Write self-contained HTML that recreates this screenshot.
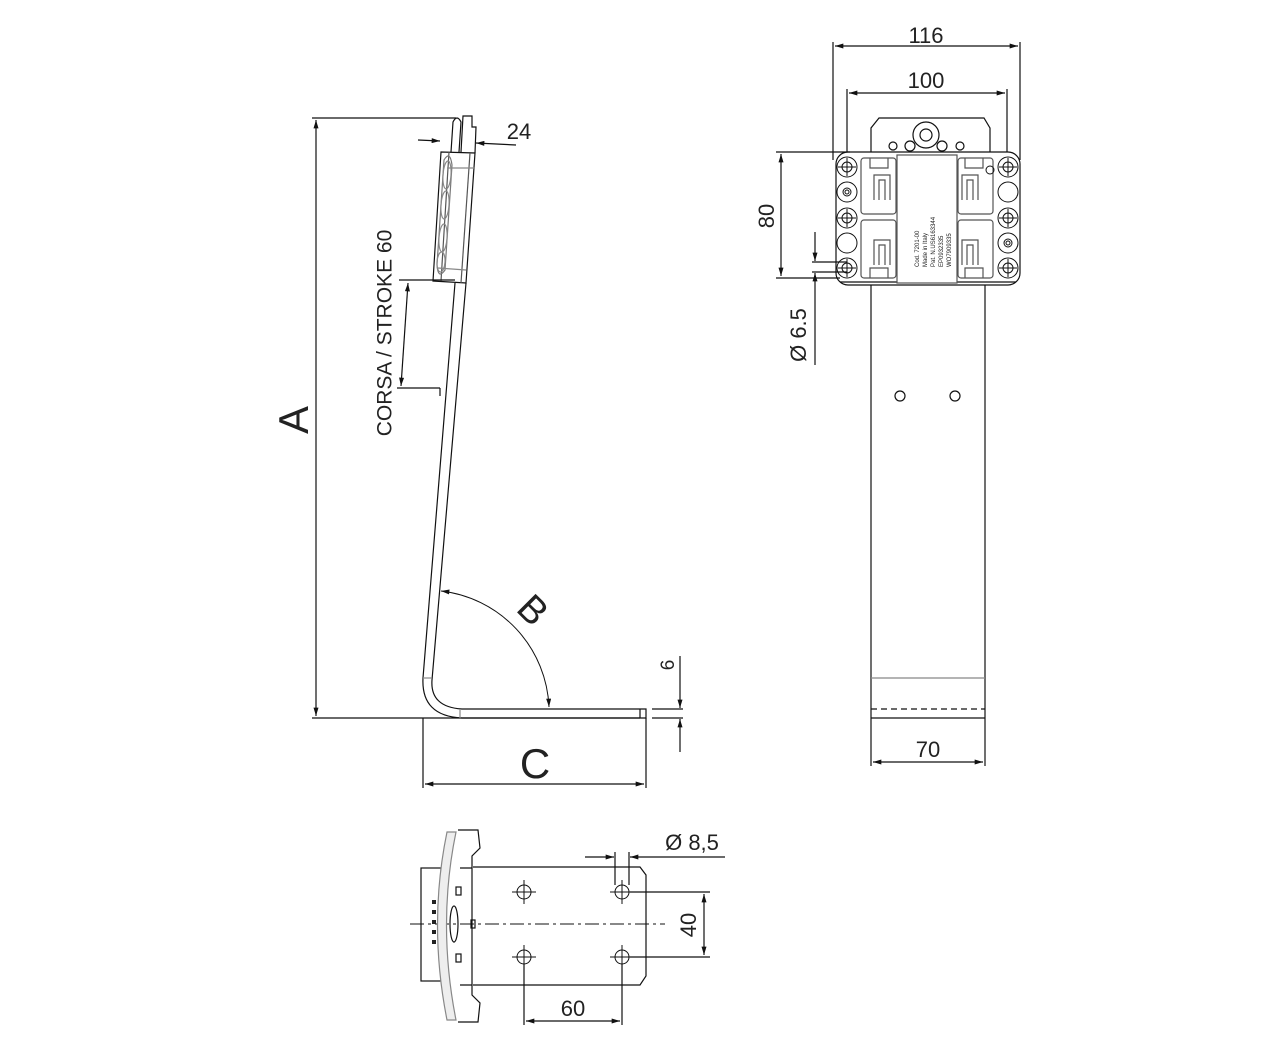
<!DOCTYPE html>
<html><head><meta charset="utf-8"><style>
html,body{margin:0;padding:0;background:#fff}
svg{display:block}
text{font-family:"Liberation Sans","DejaVu Sans",sans-serif;fill:#222}
</style></head><body>
<svg width="1280" height="1060" viewBox="0 0 1280 1060" xmlns="http://www.w3.org/2000/svg">
<defs>
<marker id="ar" viewBox="0 0 10 6" refX="10" refY="3" markerWidth="12" markerHeight="5" orient="auto-start-reverse" markerUnits="userSpaceOnUse"><path d="M0,0 L10,3 L0,6 z" fill="#111"/></marker>
</defs>
<g fill="none" stroke="#111" stroke-width="1.2">
<line x1="312" y1="118" x2="456" y2="118"/>
<line x1="312" y1="718" x2="640" y2="718"/>
<line x1="316" y1="120" x2="316" y2="716" marker-start="url(#ar)" marker-end="url(#ar)"/>
<path d="M455,283 L423,678 Q421,716 462,718 L646,718 L646,709 L462,709 Q430,707 432,680 L466,283"/>
<line x1="640" y1="709" x2="640" y2="718"/>
<line x1="423" y1="678" x2="432" y2="678" stroke="#888"/>
<line x1="460" y1="709" x2="460" y2="718" stroke="#888"/>
<path d="M441,152 L475,153 L466,283 L433,281 Z"/>
<path d="M449,152 L441,281" stroke="#555"/>
<path d="M470,153 L461,283" stroke="#555"/>
<path d="M444,160 Q450,150 452,165 L445,270 Q438,280 437,265 Z" stroke="#777"/>
<ellipse cx="447" cy="175" rx="4" ry="14" stroke="#888" transform="rotate(4 447 175)"/>
<ellipse cx="445" cy="205" rx="4" ry="14" stroke="#888" transform="rotate(4 445 205)"/>
<ellipse cx="443" cy="238" rx="4" ry="14" stroke="#888" transform="rotate(4 443 238)"/>
<ellipse cx="441" cy="262" rx="4" ry="10" stroke="#888" transform="rotate(4 441 262)"/>
<path d="M451,152 L453,122 Q457,114 461,122 L459,152"/>
<path d="M461,152 L463,116 L472,116 L472,127 L476,127 L475,153"/>
<line x1="447" y1="168" x2="475" y2="168" stroke="#888"/>
<line x1="438" y1="268" x2="466" y2="270" stroke="#888"/>
<line x1="418" y1="140" x2="440" y2="141" marker-end="url(#ar)"/>
<line x1="516" y1="145" x2="476" y2="143" marker-end="url(#ar)"/>
<line x1="399" y1="280" x2="455" y2="280"/>
<line x1="397" y1="388" x2="440" y2="388"/>
<line x1="440" y1="388" x2="440" y2="396"/>
<line x1="408" y1="283" x2="401" y2="386" marker-start="url(#ar)" marker-end="url(#ar)"/>
<path d="M441,591 A122,122 0 0 1 549,707" marker-start="url(#ar)" marker-end="url(#ar)" stroke-width="1"/>
<line x1="423" y1="718" x2="423" y2="788"/>
<line x1="646" y1="718" x2="646" y2="788"/>
<line x1="425" y1="784" x2="644" y2="784" marker-start="url(#ar)" marker-end="url(#ar)"/>
<line x1="652" y1="709" x2="683" y2="709"/>
<line x1="652" y1="718" x2="683" y2="718"/>
<line x1="680" y1="656" x2="680" y2="708" marker-end="url(#ar)"/>
<line x1="680" y1="752" x2="680" y2="719" marker-end="url(#ar)"/>

<line x1="833" y1="42" x2="833" y2="160"/>
<line x1="1020" y1="42" x2="1020" y2="160"/>
<line x1="835" y1="46" x2="1018" y2="46" marker-start="url(#ar)" marker-end="url(#ar)"/>
<line x1="847" y1="89" x2="847" y2="165"/>
<line x1="1007" y1="89" x2="1007" y2="165"/>
<line x1="849" y1="93" x2="1005" y2="93" marker-start="url(#ar)" marker-end="url(#ar)"/>
<path d="M871,152 L871,128 L879,118 L984,118 L990,128 L990,152"/>
<circle cx="926" cy="135" r="13"/>
<circle cx="926" cy="135" r="6"/>
<circle cx="910" cy="146" r="5"/><circle cx="942" cy="146" r="5"/>
<circle cx="893" cy="146" r="4"/><circle cx="960" cy="146" r="4"/>
<rect x="836" y="152" width="184" height="133" rx="12" fill="#fff"/>
<line x1="840" y1="282" x2="1016" y2="282"/>
<rect x="897" y="155" width="60" height="128" fill="#fff" stroke="#555"/>
<g stroke="#555">
<rect x="861" y="158" width="35" height="56" rx="3"/><rect x="861" y="220" width="35" height="58" rx="3"/>
<rect x="958" y="158" width="35" height="56" rx="3"/><rect x="958" y="220" width="35" height="58" rx="3"/>
<path d="M874,200 L874,175 L890,175 L890,200 M879,200 L879,180 L885,180 L885,200"/>
<path d="M874,265 L874,240 L890,240 L890,265 M879,265 L879,245 L885,245 L885,265"/>
<path d="M962,200 L962,175 L978,175 L978,200 M967,200 L967,180 L973,180 L973,200"/>
<path d="M962,265 L962,240 L978,240 L978,265 M967,265 L967,245 L973,245 L973,265"/>
<path d="M870,158 L870,168 L888,168 L888,158"/><path d="M870,278 L870,268 L888,268 L888,278"/>
<path d="M965,158 L965,168 L983,168 L983,158"/><path d="M965,278 L965,268 L983,268 L983,278"/>
</g>
<g stroke-width="1">
<circle cx="847" cy="167" r="10"/><circle cx="847" cy="167" r="5"/>
<circle cx="847" cy="192" r="10"/><circle cx="847" cy="192" r="4"/><circle cx="847" cy="192" r="2"/>
<circle cx="847" cy="218" r="10"/><circle cx="847" cy="218" r="5"/>
<circle cx="847" cy="243" r="10"/>
<circle cx="847" cy="268" r="10"/><circle cx="847" cy="268" r="5"/>
<circle cx="1008" cy="167" r="10"/><circle cx="1008" cy="167" r="5"/>
<circle cx="1008" cy="192" r="10"/>
<circle cx="1008" cy="218" r="10"/><circle cx="1008" cy="218" r="5"/>
<circle cx="1008" cy="243" r="10"/><circle cx="1008" cy="243" r="4"/><circle cx="1008" cy="243" r="2"/>
<circle cx="1008" cy="268" r="10"/><circle cx="1008" cy="268" r="5"/>
<circle cx="990" cy="170" r="4"/>
<path d="M838,167 H856 M847,158 V176 M838,218 H856 M847,209 V227 M838,268 H856 M847,259 V277 M999,167 H1017 M1008,158 V176 M999,218 H1017 M1008,209 V227 M999,268 H1017 M1008,259 V277"/>
</g>
<line x1="776" y1="152" x2="850" y2="152"/>
<line x1="776" y1="278" x2="840" y2="278"/>
<line x1="781" y1="154" x2="781" y2="276" marker-start="url(#ar)" marker-end="url(#ar)"/>
<line x1="812" y1="262" x2="847" y2="262"/>
<line x1="812" y1="272" x2="847" y2="272"/>
<line x1="815" y1="232" x2="815" y2="261" marker-end="url(#ar)"/>
<line x1="815" y1="365" x2="815" y2="273" marker-end="url(#ar)"/>
<line x1="871" y1="285" x2="871" y2="766"/>
<line x1="985" y1="285" x2="985" y2="766"/>
<line x1="871" y1="678" x2="985" y2="678" stroke="#888"/>
<line x1="871" y1="709" x2="985" y2="709" stroke-dasharray="6,4"/>
<line x1="871" y1="718" x2="985" y2="718"/>
<circle cx="900" cy="396" r="5"/><circle cx="955" cy="396" r="5"/>
<line x1="873" y1="762" x2="983" y2="762" marker-start="url(#ar)" marker-end="url(#ar)"/>

<path d="M473,867 L640,867 L646,875 L646,976 L640,985 L473,985"/>
<g stroke-width="1">
<circle cx="524" cy="892" r="7"/><circle cx="622" cy="892" r="7"/>
<circle cx="524" cy="957" r="7"/><circle cx="622" cy="957" r="7"/>
<path d="M512,892 H536 M524,880 V904 M610,892 H634 M622,880 V904 M512,957 H536 M524,945 V969 M610,957 H634 M622,945 V969"/>
</g>
<line x1="410" y1="924" x2="665" y2="924" stroke-dasharray="14,4,3,4" stroke-width="1"/>
<rect x="421" y="868" width="20" height="113"/>
<path d="M447,832 Q428,924 447,1020 L456,1020 Q437,924 456,832 Z" stroke="#888" fill="#eee"/>
<path d="M458,830 L478,830 L480,848 L472,856 L472,995 L480,1003 L478,1022 L458,1022" />
<path d="M460,868 L472,868 M460,985 L472,985"/>
<rect x="456" y="887" width="5" height="8"/><rect x="456" y="954" width="5" height="8"/>
<ellipse cx="454" cy="924" rx="4" ry="18"/>
<rect x="471" y="920" width="4" height="8"/>
<g fill="#222" stroke="none"><rect x="432" y="900" width="4" height="4"/><rect x="432" y="910" width="4" height="4"/><rect x="432" y="920" width="4" height="4"/><rect x="432" y="930" width="4" height="4"/><rect x="432" y="940" width="4" height="4"/></g>
<line x1="615" y1="885" x2="615" y2="852"/>
<line x1="629" y1="885" x2="629" y2="852"/>
<line x1="585" y1="857" x2="614" y2="857" marker-end="url(#ar)"/>
<line x1="725" y1="857" x2="630" y2="857" marker-end="url(#ar)"/>
<line x1="630" y1="892" x2="710" y2="892"/>
<line x1="630" y1="957" x2="710" y2="957"/>
<line x1="704" y1="894" x2="704" y2="955" marker-start="url(#ar)" marker-end="url(#ar)"/>
<line x1="524" y1="964" x2="524" y2="1025"/>
<line x1="622" y1="964" x2="622" y2="1025"/>
<line x1="526" y1="1021" x2="620" y2="1021" marker-start="url(#ar)" marker-end="url(#ar)"/>
</g>

<text x="297" y="420" font-size="42" text-anchor="middle" transform="rotate(-90 297 420)" dominant-baseline="middle">A</text>
<text x="386" y="333" font-size="21" text-anchor="middle" transform="rotate(-90 386 333)" dominant-baseline="middle">CORSA / STROKE 60</text>
<text x="519" y="139" font-size="22" text-anchor="middle">24</text>
<text x="531" y="612" font-size="38" text-anchor="middle" transform="rotate(45 531 612)" dominant-baseline="middle">B</text>
<text x="535" y="778" font-size="42" text-anchor="middle">C</text>
<text x="669" y="665" font-size="19" text-anchor="middle" transform="rotate(-90 669 665)" dominant-baseline="middle">6</text>
<text x="926" y="43" font-size="22" text-anchor="middle">116</text>
<text x="926" y="88" font-size="22" text-anchor="middle">100</text>
<text x="768" y="216" font-size="22" text-anchor="middle" transform="rotate(-90 768 216)" dominant-baseline="middle">80</text>
<text x="800" y="335" font-size="22" text-anchor="middle" transform="rotate(-90 800 335)" dominant-baseline="middle">Ø 6.5</text>
<text x="928" y="757" font-size="22" text-anchor="middle">70</text>
<text x="692" y="850" font-size="22" text-anchor="middle">Ø 8,5</text>
<text x="690" y="925" font-size="22" text-anchor="middle" transform="rotate(-90 690 925)" dominant-baseline="middle">40</text>
<text x="573" y="1016" font-size="22" text-anchor="middle">60</text>
<g font-size="6" transform="rotate(-90 927 220)">
<text x="880" y="212">Cod. 7201-00</text>
<text x="880" y="220">Made in Italy</text>
<text x="880" y="228">Pat. N.US6163344</text>
<text x="880" y="236">EP0932335</text>
<text x="880" y="244">WO7909335</text>
</g>
</svg>
</body></html>
